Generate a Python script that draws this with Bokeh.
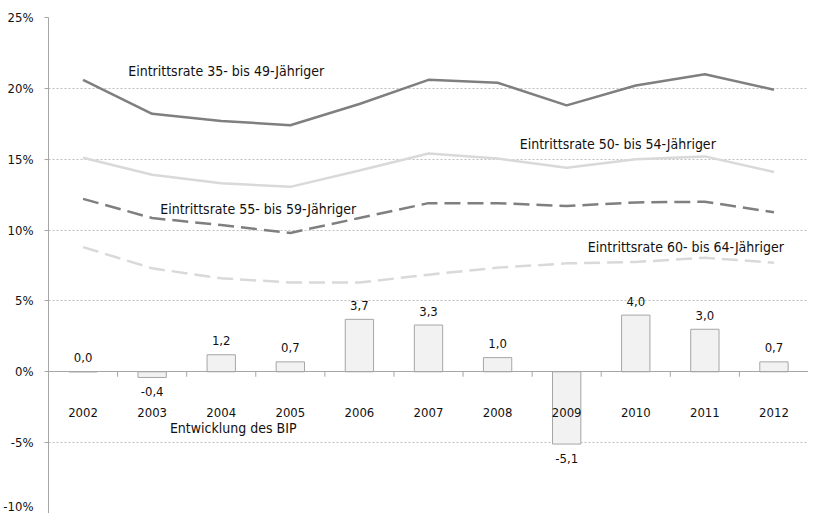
from bokeh.plotting import figure
from bokeh.models import FactorRange, Range1d, FixedTicker, ColumnDataSource
from bokeh.transform import dodge
from bokeh.core.properties import value
from bokeh.embed import file_html
from bokeh.resources import INLINE

years = ["2002", "2003", "2004", "2005", "2006", "2007", "2008", "2009", "2010", "2011", "2012"]
rate_35_49 = [20.6, 18.2, 17.7, 17.4, 18.9, 20.6, 20.4, 18.8, 20.2, 21.0, 19.9]
rate_50_54 = [15.1, 13.9, 13.3, 13.05, 14.2, 15.4, 15.05, 14.4, 15.0, 15.2, 14.1]
rate_55_59 = [12.2, 10.85, 10.35, 9.8, 10.85, 11.9, 11.9, 11.7, 11.95, 12.0, 11.25]
rate_60_64 = [8.8, 7.3, 6.6, 6.3, 6.3, 6.85, 7.35, 7.65, 7.75, 8.05, 7.7]
bip = [0.0, -0.4, 1.2, 0.7, 3.7, 3.3, 1.0, -5.1, 4.0, 3.0, 0.7]
y_ticks = [-10, -5, 0, 5, 10, 15, 20, 25]

series_names = [
    "Eintrittsrate 35- bis 49-Jähriger",
    "Eintrittsrate 50- bis 54-Jähriger",
    "Eintrittsrate 55- bis 59-Jähriger",
    "Eintrittsrate 60- bis 64-Jähriger",
]
bip_name = "Entwicklung des BIP"

FONT = "DejaVu Sans Condensed"
GRAY = "#7f7f7f"
LIGHT = "#d9d9d9"
AXIS = "#a6a6a6"
TXT = "#111111"

p = figure(
    width=808, height=513,
    x_range=FactorRange(*years, range_padding=0),
    y_range=Range1d(-10, 25),
    output_backend="svg", toolbar_location=None,
    min_border_left=43, min_border_right=0, min_border_top=17, min_border_bottom=0,
)
p.outline_line_color = None
p.background_fill_color = "white"

# grid
p.xgrid.grid_line_color = None
p.ygrid.ticker = FixedTicker(ticks=y_ticks)
p.ygrid.grid_line_color = "#bfbfbf"
p.ygrid.grid_line_dash = "2 2"
p.ygrid.grid_line_width = 1

# y axis
p.yaxis.ticker = FixedTicker(ticks=y_ticks)
p.yaxis.major_label_overrides = {t: f"{t}%" for t in y_ticks}
p.yaxis.axis_line_color = AXIS
p.yaxis.major_tick_line_color = AXIS
p.yaxis.major_tick_out = 4
p.yaxis.major_tick_in = 0
p.yaxis.minor_tick_line_color = None
p.yaxis.major_label_text_font = FONT
p.yaxis.major_label_text_font_size = "13px"
p.yaxis.major_label_text_color = TXT
p.yaxis.major_label_standoff = 11

# x axis at zero
p.xaxis.fixed_location = 0
p.xaxis.axis_line_color = AXIS
p.xaxis.major_tick_line_color = None
p.xaxis.minor_tick_line_color = None
p.xaxis.major_label_text_font = FONT
p.xaxis.major_label_text_font_size = "13px"
p.xaxis.major_label_text_color = TXT
p.xaxis.major_label_standoff = 30

# boundary tick marks under the zero line
p.segment(x0=dodge("x", 0.5, range=p.x_range), y0=0, x1=dodge("x", 0.5, range=p.x_range), y1=-0.35,
          source=ColumnDataSource(dict(x=years)), line_color=AXIS, line_width=1)

# bars
p.vbar(x=years, top=bip, bottom=0, width=0.41, fill_color="#f2f2f2", line_color=AXIS, line_width=1)

bip_labels = [f"{v:.1f}".replace(".", ",") for v in bip]
offsets = [-14 if v >= 0 else 14 for v in bip]
p.text(x=years, y=bip, text=bip_labels, y_offset=offsets, text_align="center", text_baseline="middle",
       text_font=value(FONT), text_font_size="13px", text_color=TXT)

# lines
p.line(years, rate_60_64, line_color=LIGHT, line_width=2.5, line_dash="16 7")
p.line(years, rate_55_59, line_color=GRAY, line_width=2.5, line_dash="16 7")
p.line(years, rate_50_54, line_color=LIGHT, line_width=2.5)
p.line(years, rate_35_49, line_color=GRAY, line_width=2.5)

# series labels
label_x = ["2004", "2010", "2004", "2011", "2004"]
label_dx = [5, -18, 37, -19, 12]
label_y = [21.2, 16.1, 11.46, 8.84, -4.0]
label_text = series_names + [bip_name]
p.text(x=label_x, y=label_y, text=label_text, x_offset=label_dx, text_align="center", text_baseline="middle",
       text_font=value(FONT), text_font_size="14px", text_color=TXT)

open("out.html", "w").write(file_html(p, INLINE))
